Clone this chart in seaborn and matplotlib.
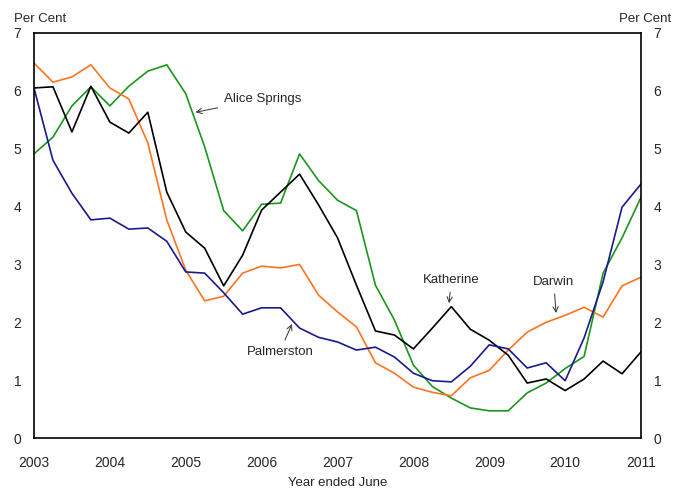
import numpy as np
import pandas as pd
import seaborn as sns
import matplotlib.pyplot as plt

# Quarterly observations, year ended June, 2003 to 2011
quarters = 2003 + np.arange(33) / 4

alice_springs = [4.91, 5.20, 5.74, 6.07, 5.74, 6.08, 6.34, 6.45, 5.95, 5.03, 3.93,
                 3.58, 4.04, 4.06, 4.91, 4.45, 4.11, 3.93, 2.64, 2.04, 1.26, 0.89,
                 0.69, 0.52, 0.47, 0.47, 0.78, 0.95, 1.20, 1.41, 2.85, 3.46, 4.16]
darwin = [6.48, 6.15, 6.24, 6.45, 6.05, 5.86, 5.10, 3.77, 2.90, 2.37, 2.45,
          2.85, 2.97, 2.94, 3.00, 2.47, 2.18, 1.92, 1.30, 1.12, 0.88, 0.79,
          0.73, 1.04, 1.17, 1.52, 1.83, 2.00, 2.12, 2.26, 2.09, 2.63, 2.78]
katherine = [6.05, 6.07, 5.29, 6.08, 5.46, 5.27, 5.63, 4.25, 3.56, 3.28, 2.63,
             3.16, 3.94, 4.25, 4.56, 4.03, 3.46, 2.64, 1.85, 1.78, 1.54, 1.90,
             2.27, 1.88, 1.69, 1.43, 0.95, 1.02, 0.82, 1.02, 1.33, 1.11, 1.49]
palmerston = [6.05, 4.80, 4.23, 3.77, 3.80, 3.61, 3.63, 3.40, 2.87, 2.85, 2.51,
              2.14, 2.25, 2.25, 1.90, 1.74, 1.66, 1.52, 1.57, 1.40, 1.12, 0.99,
              0.97, 1.24, 1.61, 1.54, 1.21, 1.30, 0.99, 1.73, 2.70, 3.99, 4.39]

year_ticks = list(range(2003, 2012))
pct_ticks = list(range(0, 8))

df = pd.DataFrame({
    "quarter": np.tile(quarters, 4),
    "rate": alice_springs + darwin + katherine + palmerston,
    "region": (["Alice Springs"] * 33 + ["Darwin"] * 33
               + ["Katherine"] * 33 + ["Palmerston"] * 33),
})

sns.set_style("white")
plt.rcParams["font.family"] = ["Liberation Sans", "DejaVu Sans"]

palette = {"Alice Springs": "#1a961a", "Darwin": "#ff7320",
           "Katherine": "#000000", "Palmerston": "#1a1a8c"}

fig = plt.figure(figsize=(6.81, 4.90), dpi=100)
ax = fig.add_axes([0.0499, 0.1061, 0.8914, 0.8266])
sns.lineplot(data=df, x="quarter", y="rate", hue="region", palette=palette,
             linewidth=1.2, legend=False, ax=ax)

ax.set_xlim(2003, 2011)
ax.set_ylim(0, 7)
ax.set_xticks(year_ticks)
ax.set_yticks(pct_ticks)
ax.tick_params(axis="x", length=0, labelsize=10, pad=13)
ax.tick_params(axis="y", length=0, labelsize=10, pad=9, labelright=True)
ax.set_xlabel("Year ended June", fontsize=9.5, labelpad=5)
ax.set_ylabel("")
for s in ax.spines.values():
    s.set_color("black")
    s.set_linewidth(1.2)

fig.text(0.02, 0.962, "Per Cent", fontsize=9.5, ha="left", va="center")
fig.text(0.985, 0.962, "Per Cent", fontsize=9.5, ha="right", va="center")

arrow = dict(arrowstyle="->", color="#333333", lw=0.7, shrinkA=2, shrinkB=0)
ax.annotate("Alice Springs", xy=(2005.13, 5.63), xytext=(2005.5, 5.86),
            fontsize=9.5, ha="left", va="center", arrowprops=arrow)
ax.annotate("Palmerston", xy=(2006.4, 1.97), xytext=(2006.24, 1.49),
            fontsize=9.5, ha="center", va="center", arrowprops=arrow)
ax.annotate("Katherine", xy=(2008.47, 2.33), xytext=(2008.5, 2.73),
            fontsize=9.5, ha="center", va="center", arrowprops=arrow)
ax.annotate("Darwin", xy=(2009.88, 2.16), xytext=(2009.85, 2.70),
            fontsize=9.5, ha="center", va="center", arrowprops=arrow)

plt.savefig("out.png", dpi=100)
